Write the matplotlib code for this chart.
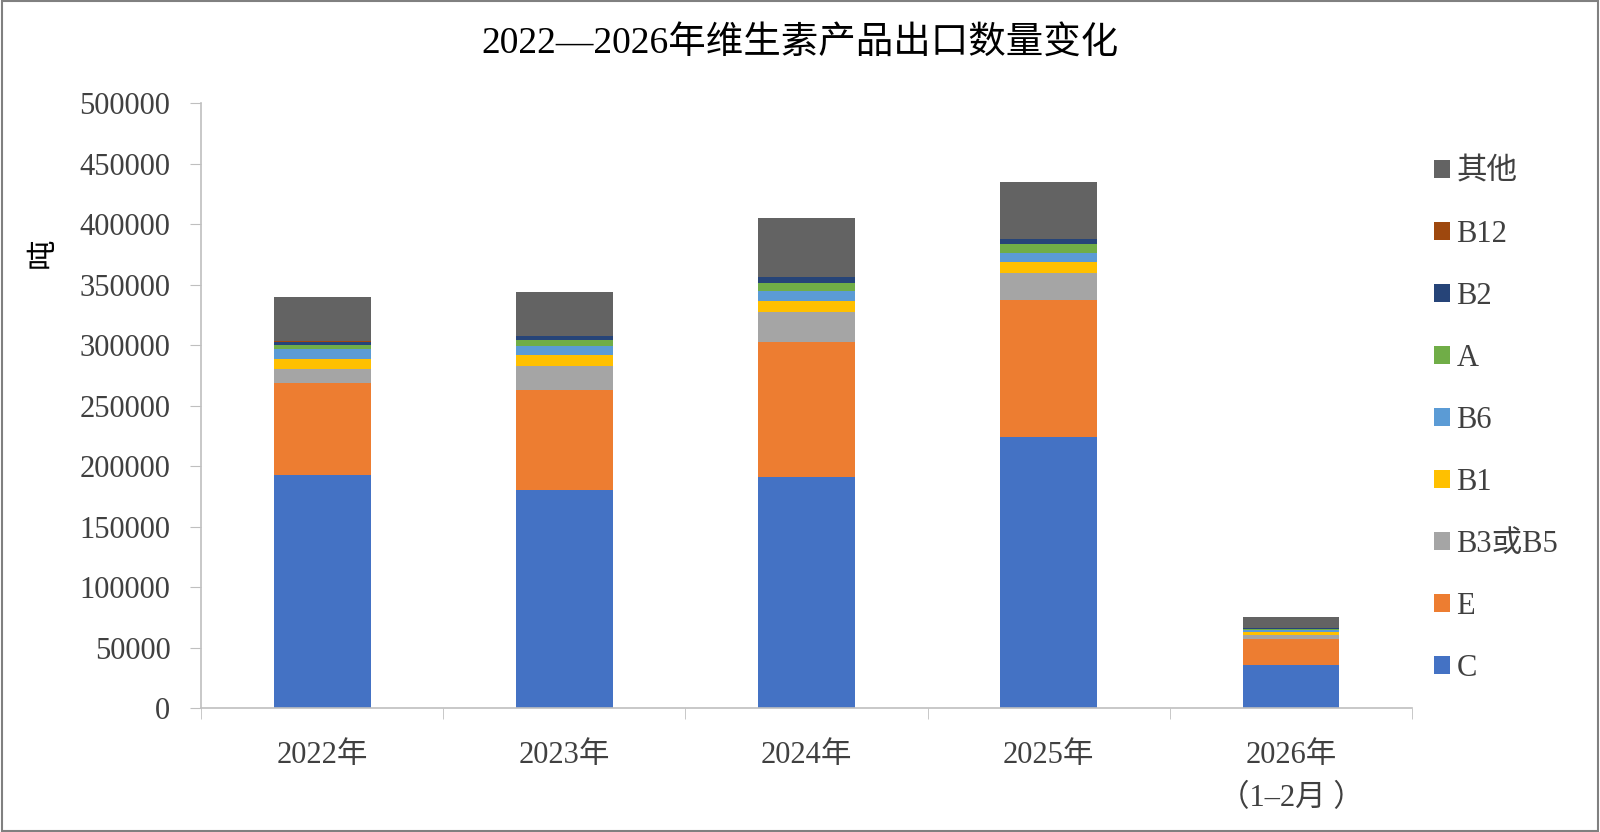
import matplotlib.pyplot as plt
import numpy as np
from matplotlib.patches import Rectangle

plt.rcParams['font.family'] = ['Liberation Serif', 'Noto Sans CJK SC', 'DejaVu Sans']

years = ['2022年', '2023年', '2024年', '2025年', '2026年\n（1–2月 ）']
series_names = ['C', 'E', 'B3或B5', 'B1', 'B6', 'A', 'B2', 'B12', '其他']
c_vals = [192300, 180500, 190600, 224300, 35700]
e_vals = [76700, 82400, 112200, 113000, 21200]
b3_vals = [11000, 20100, 24800, 22600, 3600]
b1_vals = [8300, 8900, 8900, 8500, 2700]
b6_vals = [8300, 7600, 8500, 8000, 1200]
a_vals = [3500, 4700, 6100, 7200, 1000]
b2_vals = [2700, 3300, 5400, 4100, 600]
b12_vals = [200, 200, 200, 200, 50]
other_vals = [36500, 36200, 48600, 46700, 9050]

colors = ['#4472C4', '#ED7D31', '#A5A5A5', '#FFC000', '#5B9BD5',
          '#70AD47', '#264478', '#9E480E', '#636363']

fig = plt.figure(figsize=(16, 8.32), dpi=100)
ax = fig.add_axes([0.1256, 0.149, 0.757, 0.727])

x = np.arange(len(years))
bottom = np.zeros(len(years))
all_vals = [c_vals, e_vals, b3_vals, b1_vals, b6_vals, a_vals, b2_vals, b12_vals, other_vals]
handles = []
for name, vals, col in zip(series_names, all_vals, colors):
    h = ax.bar(x, vals, 0.4, bottom=bottom, color=col, label=name)
    handles.append(h)
    bottom += np.array(vals)

ax.set_xlim(-0.5, 4.5)
ax.set_ylim(0, 500000)
ax.set_yticks(np.arange(0, 500001, 50000))
ax.set_yticklabels([str(v) for v in range(0, 500001, 50000)], fontsize=22, color='#404040')
ax.set_xticks(x)
ax.set_xticklabels(years, fontsize=22, color='#404040', linespacing=1.6)
ax.set_xticks(np.arange(-0.5, 4.6, 1), minor=True)
ax.tick_params(axis='x', which='major', length=0, pad=24)
ax.tick_params(axis='x', which='minor', length=8, color='#BFBFBF')
ax.tick_params(axis='y', length=8, color='#BFBFBF', pad=14)
for s in ['top', 'right']:
    ax.spines[s].set_visible(False)
for s in ['left', 'bottom']:
    ax.spines[s].set_color('#BFBFBF')
    ax.spines[s].set_linewidth(1.2)

fig.text(0.027, 0.696, '吨', fontsize=22, rotation=90, ha='center', va='center')

fig.text(0.5, 0.948, '2022—2026年维生素产品出口数量变化', fontsize=27,
         ha='center', va='center')

leg = ax.legend(handles[::-1], series_names[::-1], loc='upper left',
                bbox_to_anchor=(0.995, 0.955), frameon=False, fontsize=22,
                handlelength=0.55, handleheight=0.55, handletextpad=0.2,
                labelspacing=1.08)
for t in leg.get_texts():
    t.set_color('#404040')

fig.patches.append(Rectangle((0.001, 0.001), 0.998, 0.998, transform=fig.transFigure,
                             fill=False, edgecolor='#808080', linewidth=1.5))

fig.savefig('out.png', dpi=100)
